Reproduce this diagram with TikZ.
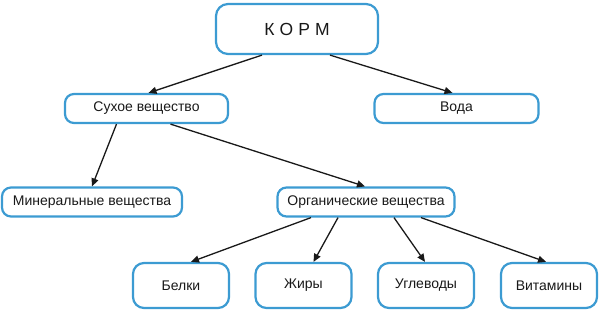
\documentclass[tikz,border=0pt]{standalone}
\usepackage{fontspec}
\setmainfont{Liberation Sans}
\newfontfamily\spacedfont[LetterSpace=30]{Liberation Sans}
\usetikzlibrary{arrows.meta,calc}
\definecolor{boxblue}{RGB}{60,155,210}
\definecolor{linegray}{RGB}{25,25,25}
\begin{document}
\begin{tikzpicture}[x=1pt,y=-1pt,
  box/.style={draw=boxblue,line width=2.2pt,rounded corners=9pt,fill=white,inner sep=0pt,font=\fontsize{14}{16}\selectfont,text=black!90},
  smallbox/.style={box,minimum height=29pt},
  leafbox/.style={box,minimum width=96pt,minimum height=45pt,rounded corners=11pt},
  conn/.style={draw=linegray,line width=1.3pt,-{Triangle[length=8pt,width=7pt]}}]
\useasboundingbox (0,0) rectangle (600,314);
\node[box,minimum width=162pt,minimum height=50pt,rounded corners=12pt,font=\spacedfont\fontsize{17.5}{20}\selectfont] (korm) at (297,29) {КОРМ};
\node[smallbox,minimum width=163pt] (sukh) at (146.5,108.5) {Сухое вещество};
\node[smallbox,minimum width=164pt] (voda) at (456.5,108.5) {Вода};
\node[smallbox,minimum width=180pt] (min) at (92,202) {Минеральные вещества};
\node[smallbox,minimum width=177pt] (org) at (366,202) {Органические вещества};
\node[leafbox] (belki) at (181,285.5) {Белки};
\node[leafbox] (zhiry) at (303.5,285.5) {Жиры};
\node[leafbox] (ugl) at (426,285.5) {Углеводы};
\node[leafbox] (vit) at (549,285.5) {Витамины};
\draw[conn] ($(korm.south)+(-35,0)$) -- ($(sukh.north)+(2,0)$);
\draw[conn] ($(korm.south)+(33,0)$) -- ($(voda.north)+(-4,0)$);
\draw[conn] ($(sukh.south)+(-30,0)$) -- ($(min.north)+(0,0)$);
\draw[conn] ($(sukh.south)+(24,0)$) -- ($(org.north)+(-1,0)$);
\draw[conn] ($(org.south)+(-55,0)$) -- ($(belki.north)+(10,0)$);
\draw[conn] ($(org.south)+(-28,0)$) -- ($(zhiry.north)+(10,0)$);
\draw[conn] ($(org.south)+(28,0)$) -- ($(ugl.north)+(-1,0)$);
\draw[conn] ($(org.south)+(55,0)$) -- ($(vit.north)+(-3,0)$);
\end{tikzpicture}
\end{document}
